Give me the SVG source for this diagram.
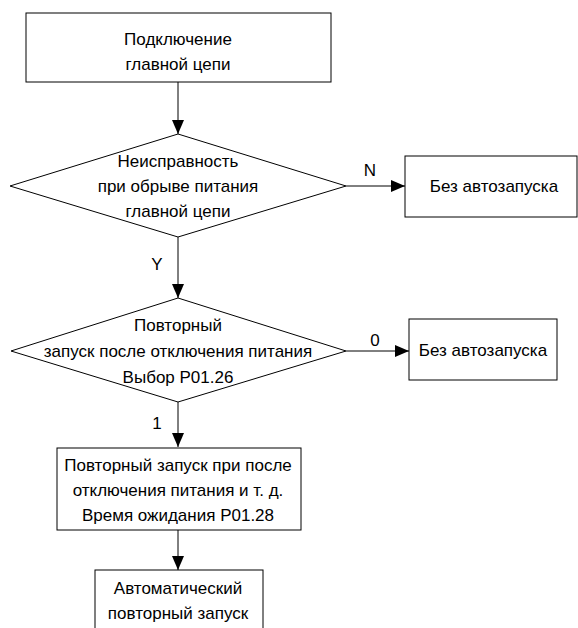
<svg xmlns="http://www.w3.org/2000/svg" width="578" height="628" viewBox="0 0 578 628">
<style>
.s{fill:#fff;stroke:#000;stroke-width:1}
.t{font-family:"Liberation Sans",Arial,sans-serif;font-size:17px;fill:#000;text-anchor:middle;dominant-baseline:central}
.c{stroke:#000;stroke-width:1;fill:none;marker-end:url(#ah)}
</style>
<defs>
<marker id="ah" markerUnits="userSpaceOnUse" markerWidth="14" markerHeight="12" refX="14" refY="6" orient="auto">
<path d="M0,0 L14,6 L0,12 z" fill="#000"/>
</marker>
</defs>
<rect width="578" height="628" fill="#fff"/>
<g id="connectors">
<line class="c" x1="178" y1="82" x2="178" y2="134"/>
<line class="c" x1="178" y1="237" x2="178" y2="298"/>
<line class="c" x1="346" y1="186" x2="405" y2="186"/>
<line class="c" x1="178" y1="402" x2="178" y2="447"/>
<line class="c" x1="346" y1="351" x2="409" y2="351"/>
<line class="c" x1="178" y1="530" x2="178" y2="570"/>
<text class="t" x="370" y="170">N</text>
<text class="t" x="157" y="264">Y</text>
<text class="t" x="375" y="340">0</text>
<text class="t" x="157" y="423">1</text>
</g>
<g id="n1">
<rect class="s" x="26" y="13" width="305" height="69"/>
<text class="t" x="178" y="39">Подключение</text>
<text class="t" x="178" y="64">главной цепи</text>
</g>
<g id="d1">
<polygon class="s" points="178,134 346,186 178,237 10,186"/>
<text class="t" x="178" y="161">Неисправность</text>
<text class="t" x="178" y="186">при обрыве питания</text>
<text class="t" x="178" y="211">главной цепи</text>
</g>
<g id="n2">
<rect class="s" x="405" y="156" width="172" height="61"/>
<text class="t" x="494" y="186">Без автозапуска</text>
</g>
<g id="d2">
<polygon class="s" points="178,298 346,351 178,402 11,351"/>
<text class="t" x="178" y="325">Повторный</text>
<text class="t" x="178" y="351">запуск после отключения питания</text>
<text class="t" x="178" y="377">Выбор P01.26</text>
</g>
<g id="n3">
<rect class="s" x="409" y="319" width="148" height="61"/>
<text class="t" x="483" y="350">Без автозапуска</text>
</g>
<g id="n4">
<rect class="s" x="57" y="448" width="244" height="82"/>
<text class="t" x="178" y="465">Повторный запуск при после</text>
<text class="t" x="178" y="490">отключения питания и т. д.</text>
<text class="t" x="178" y="515">Время ожидания P01.28</text>
</g>
<g id="n5">
<rect class="s" x="95" y="570" width="168" height="70"/>
<text class="t" x="178" y="588">Автоматический</text>
<text class="t" x="178" y="613">повторный запуск</text>
</g>
</svg>
